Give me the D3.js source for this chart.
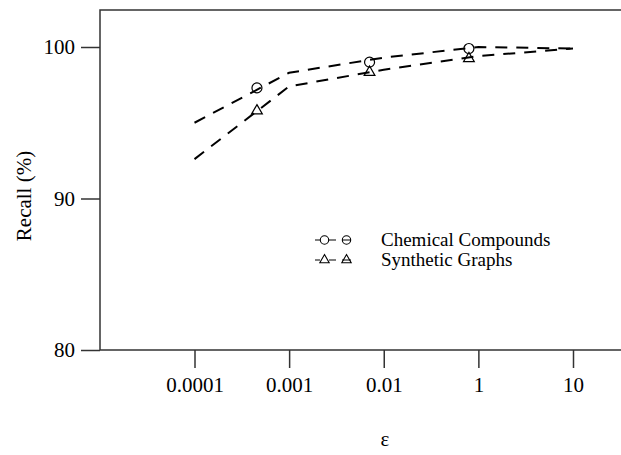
<!DOCTYPE html>
<html>
<head>
<meta charset="utf-8">
<script src="https://cdn.jsdelivr.net/npm/d3@7"></script>
<style>
  body { margin: 0; background: #fff; }
  text { font-family: "Liberation Serif", "Times New Roman", serif; fill: #000; }
</style>
</head>
<body>
<script>
// values
var xLabels = ["0.0001", "0.001", "0.01", "1", "10"];
var chemLine = [95.0, 98.3, 99.3, 100.0, 99.9];
var synthLine = [92.6, 97.4, 98.5, 99.4, 99.9];
// markers sit between the ticks (fractional tick index)
var markerPos = [0.66, 1.85, 2.9];
var chemPoints = [97.3, 99.0, 99.9];
var synthPoints = [95.85, 98.4, 99.3];
var yTicks = [80, 90, 100];
var seriesNames = ["Chemical Compounds", "Synthetic Graphs"];

var width = 621, height = 455;

var svg = d3.select("body").append("svg")
    .attr("width", width)
    .attr("height", height);

var x = d3.scaleLinear().domain([0, 4]).range([194.5, 573]);
var y = d3.scaleLinear().domain([80, 100]).range([350, 47]);

// frame (left, top, bottom; plot runs off the right edge)
svg.append("path")
    .attr("d", "M621,10H100V350H621")
    .attr("fill", "none")
    .attr("stroke", "#333")
    .attr("stroke-width", 1.5);

// x axis
var xAxis = svg.append("g")
    .attr("transform", "translate(0,350)")
    .call(d3.axisBottom(x)
      .tickValues(d3.range(xLabels.length))
      .tickFormat(function(i) { return xLabels[i]; })
      .tickSize(18)
      .tickPadding(9));
xAxis.select(".domain").remove();
xAxis.selectAll("line").attr("stroke", "#333").attr("stroke-width", 1.5);
xAxis.selectAll("text").style("font-size", "21px").attr("font-family", null);

// y axis
var yAxis = svg.append("g")
    .attr("transform", "translate(100,0)")
    .call(d3.axisLeft(y)
      .tickValues(yTicks)
      .tickSize(19)
      .tickPadding(6));
yAxis.select(".domain").remove();
yAxis.selectAll("line").attr("stroke", "#333").attr("stroke-width", 1.5);
yAxis.selectAll("text").style("font-size", "21px").attr("font-family", null);

// axis titles
svg.append("text")
    .attr("transform", "translate(31,196) rotate(-90)")
    .attr("text-anchor", "middle")
    .style("font-size", "21px")
    .text("Recall (%)");

svg.append("text")
    .attr("x", 385)
    .attr("y", 446)
    .attr("text-anchor", "middle")
    .style("font-size", "21px")
    .text("ε");

// dashed lines
var line = d3.line()
    .x(function(d, i) { return x(i); })
    .y(function(d) { return y(d); });

[chemLine, synthLine].forEach(function(s) {
  svg.append("path")
      .datum(s)
      .attr("d", line)
      .attr("fill", "none")
      .attr("stroke", "#000")
      .attr("stroke-width", 2)
      .attr("stroke-dasharray", "12,9");
});

// markers
var tri = d3.symbol().type(d3.symbolTriangle).size(50);

svg.selectAll("circle.chem")
    .data(chemPoints)
  .enter().append("circle")
    .attr("class", "chem")
    .attr("cx", function(d, i) { return x(markerPos[i]); })
    .attr("cy", function(d) { return y(d); })
    .attr("r", 5)
    .attr("fill", "none")
    .attr("stroke", "#000")
    .attr("stroke-width", 1.2);

svg.selectAll("path.synth")
    .data(synthPoints)
  .enter().append("path")
    .attr("class", "synth")
    .attr("d", tri)
    .attr("transform", function(d, i) {
      return "translate(" + x(markerPos[i]) + "," + (y(d) + 1) + ")";
    })
    .attr("fill", "none")
    .attr("stroke", "#000")
    .attr("stroke-width", 1.2);

// legend
var legend = svg.append("g").attr("transform", "translate(0,240)");
seriesNames.forEach(function(name, k) {
  var g = legend.append("g").attr("transform", "translate(0," + (k * 20) + ")");
  g.append("path")
      .attr("d", "M315,0H320M329,0H336M342,0H351")
      .attr("stroke", "#000")
      .attr("stroke-width", 1.2);
  [324.5, 346.5].forEach(function(cx) {
    if (k === 0) {
      g.append("circle").attr("cx", cx).attr("cy", 0).attr("r", 4.2)
          .attr("fill", "none").attr("stroke", "#000").attr("stroke-width", 1.1);
    } else {
      g.append("path").attr("d", d3.symbol().type(d3.symbolTriangle).size(38))
          .attr("transform", "translate(" + cx + ",0)")
          .attr("fill", "none").attr("stroke", "#000").attr("stroke-width", 1.1);
    }
  });
  g.append("text")
      .attr("x", 381)
      .attr("y", 6)
      .style("font-size", "19px")
      .text(name);
});
</script>
</body>
</html>
